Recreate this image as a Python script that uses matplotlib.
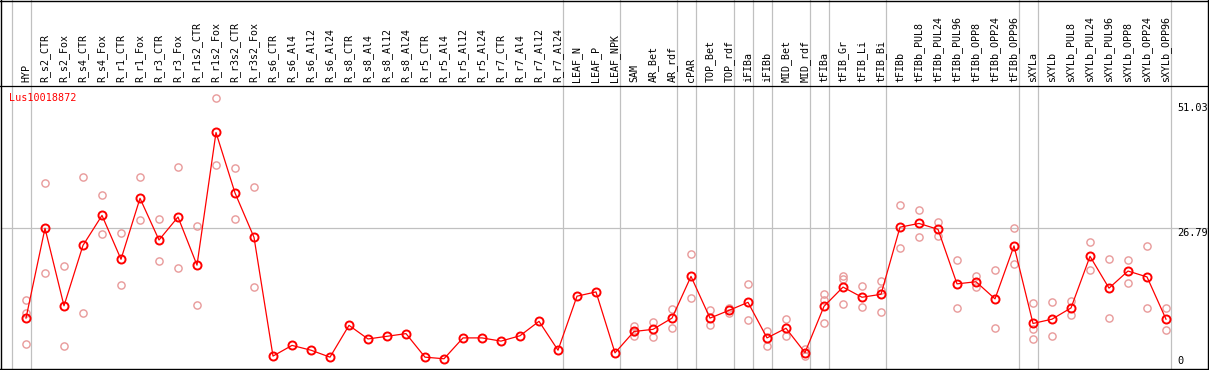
import matplotlib
matplotlib.use("Agg")
import matplotlib.pyplot as plt

categories = ["HYP", "R_s2_CTR", "R_s2_Fox", "R_s4_CTR", "R_s4_Fox", "R_r1_CTR", "R_r1_Fox",
              "R_r3_CTR", "R_r3_Fox", "R_r1s2_CTR", "R_r1s2_Fox", "R_r3s2_CTR", "R_r3s2_Fox",
              "R_s6_CTR", "R_s6_Al4", "R_s6_Al12", "R_s6_Al24", "R_s8_CTR", "R_s8_Al4",
              "R_s8_Al12", "R_s8_Al24", "R_r5_CTR", "R_r5_Al4", "R_r5_Al12", "R_r5_Al24",
              "R_r7_CTR", "R_r7_Al4", "R_r7_Al12", "R_r7_Al24", "LEAF_N", "LEAF_P", "LEAF_NPK",
              "SAM", "AR_Bet", "AR_rdf", "cPAR", "TOP_Bet", "TOP_rdf", "iFIBa", "iFIBb",
              "MID_Bet", "MID_rdf", "tFIBa", "tFIB_Gr", "tFIB_Li", "tFIB_Bi", "tFIBb",
              "tFIBb_PUL8", "tFIBb_PUL24", "tFIBb_PUL96", "tFIBb_OPP8", "tFIBb_OPP24",
              "tFIBb_OPP96", "sXYLa", "sXYLb", "sXYLb_PUL8", "sXYLb_PUL24", "sXYLb_PUL96",
              "sXYLb_OPP8", "sXYLb_OPP24", "sXYLb_OPP96"]

means = [10.0, 26.8, 12.3, 23.6, 29.2, 21.0, 32.4, 24.6, 28.9, 19.9, 44.7, 33.4, 25.1,
         2.9, 4.9, 4.0, 2.7, 8.65, 6.1, 6.6, 7.1, 2.7, 2.4, 6.3, 6.3, 5.7, 6.7, 9.4, 4.0,
         14.1, 14.9, 3.5, 7.5, 7.9, 10.0, 17.8, 10.0, 11.45, 12.95, 6.3, 8.1, 3.55,
         12.2, 15.8, 13.9, 14.45, 27.0, 27.7, 26.6, 16.4, 16.8, 13.6, 23.5, 9.0, 9.8,
         11.9, 21.55, 15.6, 18.8, 17.7, 9.8]

replicates = {
    0: [13.4, 11.0, 5.1], 1: [35.2, 18.4], 2: [19.7, 4.8], 3: [36.3, 10.95],
    4: [33.0, 25.7], 5: [25.9, 16.1], 6: [36.3, 28.3], 7: [28.5, 20.6],
    8: [38.2, 19.3], 9: [27.3, 12.4], 10: [51.1, 38.6], 11: [38.0, 28.5],
    12: [34.5, 15.9],
    32: [8.5, 7.4, 6.7], 33: [9.27, 6.53], 34: [11.65, 8.1], 35: [21.9, 13.7],
    36: [11.45, 8.65], 37: [11.9, 11.0], 38: [16.3, 9.6], 39: [7.53, 4.79],
    40: [9.83, 6.6], 41: [4.17, 2.92], 42: [14.45, 13.4, 9.0], 43: [17.87, 17.3, 12.58],
    44: [15.95, 12.0], 45: [16.9, 15.25, 11.1], 46: [31.1, 23.05], 47: [30.15, 25.1],
    48: [27.97, 25.35], 49: [20.86, 11.83], 50: [17.87, 15.87], 51: [18.94, 8.1],
    52: [26.79, 20.06], 53: [12.77, 7.9, 6.15], 54: [12.95, 6.6], 55: [13.2, 10.5],
    56: [24.2, 18.94], 57: [21.0, 10.0], 58: [20.86, 16.56], 59: [23.48, 11.9],
    60: [11.9, 7.7],
}

group_ends = [-1, 0, 28, 31, 34, 35, 37, 38, 39, 41, 42, 45, 52, 53, 60]
gene = "Lus10018872"
ref_lines = [26.79]
axis_labels = ["51.03", "26.79", "0"]

W, H = 1209, 370
fig = plt.figure(figsize=(W / 100, H / 100), dpi=100)
ax = fig.add_axes([0, 0, 1, 1])
for s in ax.spines.values():
    s.set_visible(False)
ax.set_xticks([])
ax.set_yticks([])

# pixel mapping: x_px = 26 + 19*i ; y_px = 371.6 - 5.349*v
def px2x(px):
    return (px - 26) / 19.0

def py2v(py):
    return (371.6 - py) / 5.349

ax.set_xlim(px2x(0), px2x(W))
ax.set_ylim(py2v(H), py2v(0))

mono = "DejaVu Sans Mono"
gray = "#c0c0c0"

# vertical group separators
for k in group_ends:
    ax.axvline(k + 0.247, color=gray, lw=0.9, zorder=1)

# horizontal reference line
for r in ref_lines:
    ax.plot([px2x(1), px2x(1208)], [r, r], color=gray, lw=0.9, zorder=1)

# frame
black = "black"
ax.plot([px2x(0.5), px2x(1208.5)], [py2v(0.5), py2v(0.5)], color=black, lw=1.0, zorder=5)
ax.plot([px2x(0.5), px2x(1208.5)], [py2v(85.5), py2v(85.5)], color=black, lw=0.9, zorder=5)
ax.plot([px2x(0.5), px2x(1208.5)], [py2v(369), py2v(369)], color=black, lw=1.0, zorder=5)
ax.plot([px2x(1), px2x(1)], [py2v(0), py2v(370)], color=black, lw=1.0, zorder=5)
ax.plot([px2x(1208), px2x(1208)], [py2v(0), py2v(370)], color=black, lw=1.0, zorder=5)

# header labels
for i, c in enumerate(categories):
    ax.text(i, py2v(82), c, rotation=90, ha="center", va="bottom",
            fontsize=7.2, family=mono, color="black")

# replicates
pink = "#e89a9a"
for i, vals in replicates.items():
    ax.plot([i] * len(vals), vals, linestyle="none", marker="o", markersize=5.2,
            markerfacecolor="none", markeredgecolor=pink, markeredgewidth=1.0, zorder=2)

# means
xs = list(range(len(means)))
ax.plot(xs, means, color="#ff0000", lw=0.9, zorder=3)
ax.plot(xs, means, linestyle="none", marker="o", markersize=5.8,
        markerfacecolor="none", markeredgecolor="#ff0000", markeredgewidth=1.4, zorder=4)

# gene label
ax.text(px2x(9), py2v(97.5), gene, ha="left", va="center", fontsize=7.3,
        family=mono, color="#ff0000")

# right-hand scale labels
label_py = [107.5, 232.5, 361.5]
for t, py in zip(axis_labels, label_py):
    ax.text(px2x(1177), py2v(py), t, ha="left", va="center", fontsize=7.4,
            family=mono, color="black")

fig.savefig("out.png", dpi=100)
